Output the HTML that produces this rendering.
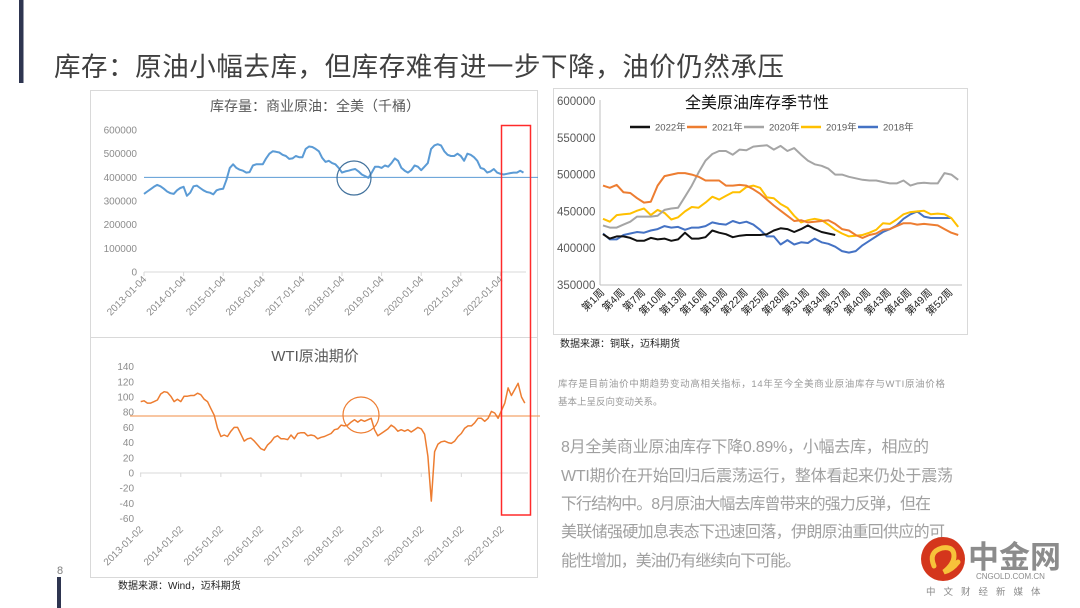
<!DOCTYPE html>
<html><head><meta charset="utf-8"><style>
html,body{margin:0;padding:0;background:#fff;}
svg{display:block;font-family:"Liberation Sans","Noto Sans CJK SC",sans-serif;}
</style></head><body>
<svg id="s" width="1080" height="608" viewBox="0 0 1080 608" xmlns="http://www.w3.org/2000/svg">
<rect x="19" y="0" width="4.5" height="83" fill="#2e3550"/>
<rect x="57" y="577" width="4" height="31" fill="#2e3550"/>
<text x="60" y="574" font-size="11" fill="#7f7f7f" text-anchor="middle">8</text>
<text x="54" y="76" font-size="26.5" fill="#404040" textLength="730" lengthAdjust="spacing">库存：原油小幅去库，但库存难有进一步下降，油价仍然承压</text>

<rect x="90.5" y="90.5" width="447" height="247" fill="none" stroke="#d9d9d9"/>
<rect x="90.5" y="337.5" width="447" height="240" fill="none" stroke="#d9d9d9"/>
<text x="315" y="111" font-size="14" fill="#595959" text-anchor="middle">库存量：商业原油：全美（千桶）</text>
<text x="315" y="361" font-size="15" fill="#595959" text-anchor="middle">WTI原油期价</text>
<g id="g1"></g><g id="g2"></g>
<text x="118" y="589" font-size="10" fill="#222">数据来源：Wind，迈科期货</text>

<rect x="553.5" y="88.5" width="414" height="246" fill="none" stroke="#d9d9d9"/>
<text x="757" y="108" font-size="16" fill="#111" text-anchor="middle">全美原油库存季节性</text>
<g id="g3"></g>
<text x="560" y="347" font-size="10" fill="#222">数据来源：铜联，迈科期货</text>

<text x="558" y="387" font-size="9.5" fill="#9a9a9a" textLength="387" lengthAdjust="spacing">库存是目前油价中期趋势变动高相关指标，14年至今全美商业原油库存与WTI原油价格</text>
<text x="558" y="405" font-size="9.5" fill="#9a9a9a">基本上呈反向变动关系。</text>
<g font-size="16" fill="#a0a0a0">
<text x="561" y="452" textLength="368" lengthAdjust="spacing">8月全美商业原油库存下降0.89%，小幅去库，相应的</text>
<text x="561" y="481" textLength="392" lengthAdjust="spacing">WTI期价在开始回归后震荡运行，整体看起来仍处于震荡</text>
<text x="561" y="509" textLength="370" lengthAdjust="spacing">下行结构中。8月原油大幅去库曾带来的强力反弹，但在</text>
<text x="561" y="537" textLength="384" lengthAdjust="spacing">美联储强硬加息表态下迅速回落，伊朗原油重回供应的可</text>
<text x="561" y="566" textLength="240" lengthAdjust="spacing">能性增加，美油仍有继续向下可能。</text>
</g>
<g>
<circle cx="943" cy="559" r="22" fill="#d4361c"/>
<path d="M934 566 q-6 -14 8 -18 q12 -2 12 8 q0 8 -10 16 q8 -2 14 -10" fill="none" stroke="#f7c23a" stroke-width="5" stroke-linecap="round"/>
<text x="968" y="568" font-size="31" fill="#8c8c8c" font-weight="bold">中金网</text>
<text x="976" y="579" font-size="8" fill="#8c8c8c">CNGOLD.COM.CN</text>
<text x="926" y="595" font-size="9.5" fill="#8c8c8c" letter-spacing="8">中文财经新媒体</text>
</g>
</svg>
<script>
// ---- inventory (thousand barrels), monthly from 2013-01 ----
const invValues=[330,340,350,360,368,362,352,340,333,330,345,355,
360,322,335,362,365,355,345,338,335,328,345,350,
352,390,440,455,440,432,428,420,422,450,455,455,
455,480,500,510,508,505,495,490,478,480,490,485,
485,520,530,528,520,510,482,465,470,460,455,440,
420,425,428,432,435,425,412,405,398,420,445,445,
440,450,445,460,480,470,440,428,420,430,450,445,
430,445,460,520,535,540,535,510,495,490,490,500,
490,470,500,495,485,470,440,435,420,425,435,420,
415,412,415,418,420,420,428,420];
const invTicks=["2013-01-04","2014-01-04","2015-01-04","2016-01-04","2017-01-04","2018-01-04","2019-01-04","2020-01-04","2021-01-04","2022-01-04"];
const invYTicks=[0,100000,200000,300000,400000,500000,600000];
const invRef=[400];
// ---- WTI monthly ----
const wtiValues=[94,95,92,92,94,96,104,107,106,101,94,97,
94,101,101,102,102,105,103,97,94,85,76,59,
48,50,48,55,60,60,51,42,45,46,42,37,
32,30,37,41,47,49,45,45,44,50,45,52,
53,53,49,50,49,45,47,48,50,52,57,58,
63,62,63,67,70,67,70,68,70,72,57,49,
52,55,58,63,60,55,57,55,57,54,57,60,
58,51,22,-37,28,38,41,42,40,39,42,48,
52,59,62,62,66,72,72,68,72,81,79,72,
82,92,112,102,110,118,100,92];
const wtiTicks=["2013-01-02","2014-01-02","2015-01-02","2016-01-02","2017-01-02","2018-01-02","2019-01-02","2020-01-02","2021-01-02","2022-01-02"];
const wtiYTicks=[-60,-40,-20,0,20,40,60,80,100,120,140];
const wtiRef=[75];
// ---- seasonal weekly (thousand barrels) ----
const sNames=["2022年","2021年","2020年","2019年","2018年"];
const s2022=[419,413,416,416,414,410,410,414,412,413,410,412,421,413,413,415,424,421,419,415,417,418,418,418,419,424,427,426,422,426,431,426,422,420,418];
const s2021=[485,482,486,476,475,468,462,463,485,498,500,502,502,500,497,492,492,492,485,485,486,485,480,474,466,458,451,444,437,438,435,436,437,438,433,426,424,418,414,418,420,425,426,430,434,434,432,433,432,431,426,421,418];
const s2020=[431,428,428,432,436,443,443,443,444,452,454,455,470,485,503,519,528,532,532,527,534,533,538,539,540,534,539,532,536,527,519,514,512,508,500,500,497,495,493,492,492,490,488,488,492,485,488,489,488,488,502,500,493];
const s2019=[440,436,445,446,447,451,454,445,452,448,439,442,450,456,455,462,470,466,471,476,476,483,485,482,469,468,460,455,444,435,438,440,438,432,425,420,416,417,418,421,425,434,433,439,446,449,450,451,446,447,446,441,429];
const s2018=[420,412,412,418,420,422,421,424,426,430,428,429,425,428,428,430,435,433,432,437,434,436,432,425,416,416,405,411,405,408,407,413,408,406,402,396,394,396,404,410,416,422,426,431,440,446,450,443,441,441,441,441];
const sYTicks=[350000,400000,450000,500000,550000,600000];
const sWeeks=[1,4,7,10,13,16,19,22,25,28,31,34,37,40,43,46,49,52];

const NS="http://www.w3.org/2000/svg";
function mk(tag,attrs,parent){const e=document.createElementNS(NS,tag);for(const k in attrs)e.setAttribute(k,attrs[k]);parent.appendChild(e);return e;}

// chart 1
(function(){
const g=document.getElementById('g1');
const x=i=>144+i*3.3, y=v=>272-v*0.2367;
invYTicks.forEach(t=>{const e=mk('text',{x:137,y:y(t/1000)+3.5,'font-size':10,fill:'#8c8c8c','text-anchor':'end'},g);e.textContent=t;

});
const ax=mk('line',{x1:144,y1:272,x2:526,y2:272,stroke:'#d9d9d9'},g);


invTicks.forEach((t,k)=>{const tx=x(k*12);mk('line',{x1:tx,y1:272,x2:tx,y2:276,stroke:'#d9d9d9'},g);
const e=mk('text',{x:tx+3,y:280,'font-size':10,fill:'#8c8c8c','text-anchor':'end',transform:`rotate(-45 ${tx+3} 280)`},g);e.textContent=t;

});
const rl=mk('line',{x1:144,y1:y(invRef[0]),x2:538,y2:y(invRef[0]),stroke:'#5b9bd5','stroke-width':1},g);


const p=mk('path',{d:invValues.map((v,i)=>(i?'L':'M')+x(i).toFixed(1)+' '+y(v).toFixed(1)).join(''),fill:'none',stroke:'#5b9bd5','stroke-width':2,'stroke-linejoin':'round'},g);


const c=mk('circle',{cx:354,cy:178,r:17,fill:'none',stroke:'#41719c','stroke-width':1.2},g);


})();

// chart 2
(function(){
const g=document.getElementById('g2');
const x=i=>140.7+i*3.34, y=v=>473-v*0.76;
wtiYTicks.forEach(t=>{const e=mk('text',{x:134,y:y(t)+3.5,'font-size':10,fill:'#8c8c8c','text-anchor':'end'},g);e.textContent=t;

});
const ax=mk('line',{x1:140,y1:473,x2:528,y2:473,stroke:'#d9d9d9'},g);


wtiTicks.forEach((t,k)=>{const tx=x(k*12);mk('line',{x1:tx,y1:473,x2:tx,y2:477,stroke:'#d9d9d9'},g);
const e=mk('text',{x:tx+3,y:530,'font-size':10,fill:'#8c8c8c','text-anchor':'end',transform:`rotate(-45 ${tx+3} 530)`},g);e.textContent=t;

});
const rl=mk('line',{x1:130,y1:y(wtiRef[0]),x2:540,y2:y(wtiRef[0]),stroke:'#f4a46a','stroke-width':1.2},g);


const p=mk('path',{d:wtiValues.map((v,i)=>(i?'L':'M')+x(i).toFixed(1)+' '+y(v).toFixed(1)).join(''),fill:'none',stroke:'#ed7d31','stroke-width':1.5,'stroke-linejoin':'round'},g);


const c=mk('circle',{cx:361,cy:415,r:18,fill:'none',stroke:'#ed7d31','stroke-width':1.2},g);


const r=mk('rect',{x:501.5,y:125.5,width:29,height:389.5,fill:'none',stroke:'#ff2a2a','stroke-width':1.5},g);


})();

// chart 3
(function(){
const g=document.getElementById('g3');
const x=w=>603+(w-1)*6.83, y=v=>285-(v-350)*0.736;
sYTicks.forEach(t=>{const e=mk('text',{x:557,y:y(t/1000)+4,'font-size':11.5,fill:'#595959'},g);e.textContent=t;

});
const ay=mk('line',{x1:600,y1:100,x2:600,y2:285,stroke:'#bfbfbf'},g);


const axl=mk('line',{x1:600,y1:285,x2:962,y2:285,stroke:'#bfbfbf'},g);


sWeeks.forEach(w=>{const tx=x(w);
const e=mk('text',{x:tx+2,y:293,'font-size':10.5,fill:'#222','text-anchor':'end',transform:`rotate(-45 ${tx+2} 293)`},g);e.textContent='第'+w+'周';

});
const series=[s2022,s2021,s2020,s2019,s2018];
const colors=['#111111','#ed7d31','#a5a5a5','#ffc000','#4472c4'];
const lx=[630,687,744,801,858];
for(let k=4;k>=0;k--){
const p=mk('path',{d:series[k].map((v,i)=>(i?'L':'M')+x(i+1).toFixed(1)+' '+y(v).toFixed(1)).join(''),fill:'none',stroke:colors[k],'stroke-width':2,'stroke-linejoin':'round'},g);


}
sNames.forEach((n,k)=>{
const l=mk('line',{x1:lx[k],y1:127,x2:lx[k]+20,y2:127,stroke:colors[k],'stroke-width':2.5},g);


const t=mk('text',{x:lx[k]+25,y:130.5,'font-size':9.5,fill:'#595959'},g);t.textContent=n;


});
})();
</script>
</body></html>
